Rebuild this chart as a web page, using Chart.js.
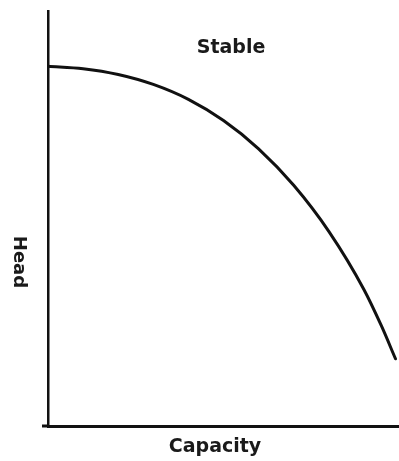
<!DOCTYPE html>
<html>
<head>
<meta charset="utf-8">
<script src="https://cdn.jsdelivr.net/npm/chart.js@4/dist/chart.umd.min.js"></script>
<style>
  html, body { margin: 0; padding: 0; background: #fff; }
  #wrap { width: 399px; height: 461px; }
</style>
</head>
<body>
<div id="wrap"><canvas id="pumpCurve" width="399" height="461"></canvas></div>
<script>
// Pump curve: head falls off as capacity rises
const capacity = [0, 10, 20, 30, 40, 50, 60, 70, 80, 90, 95, 99];
const head = [86.7, 86.1, 84.7, 82.3, 78.7, 73.6, 66.8, 58.0, 46.9, 32.9, 24.1, 16.2];
const curveLabel = "Stable";
const xTitle = "Capacity";
const yTitle = "Head";

const points = capacity.map((c, i) => ({ x: c, y: head[i] }));

// labels and the small overshoot of the x axis past the y axis
const labelsPlugin = {
    id: "labels",
    afterDraw(chart) {
        const { ctx, chartArea } = chart;
        ctx.save();
        ctx.fillStyle = "#1a1a1a";

        // x axis runs a little past the corner
        ctx.strokeStyle = "#111";
        ctx.lineWidth = 3;
        ctx.beginPath();
        ctx.moveTo(chartArea.left - 6, chartArea.bottom);
        ctx.lineTo(chartArea.left, chartArea.bottom);
        ctx.stroke();

        ctx.font = "bold 19px 'DejaVu Sans'";
        ctx.textAlign = "center";
        ctx.textBaseline = "alphabetic";
        ctx.fillText(curveLabel, 231, 53);
        ctx.fillText(xTitle, 215, 452);

        // y title reads top to bottom
        ctx.font = "bold 18px 'DejaVu Sans'";
        ctx.translate(14, 262);
        ctx.rotate(Math.PI / 2);
        ctx.fillText(yTitle, 0, 0);
        ctx.restore();
    }
};

new Chart(document.getElementById("pumpCurve"), {
    type: "line",
    data: {
        datasets: [{
            data: points,
            borderColor: "#111",
            borderWidth: 3,
            borderCapStyle: "round",
            pointRadius: 0,
            cubicInterpolationMode: "monotone",
            fill: false
        }]
    },
    options: {
        responsive: false,
        animation: false,
        layout: { padding: { left: 48, top: 11, right: 0, bottom: 35 } },
        plugins: {
            legend: { display: false },
            tooltip: { enabled: false }
        },
        scales: {
            x: {
                type: "linear",
                min: 0,
                max: 100,
                ticks: { display: false },
                grid: { display: false, drawTicks: false },
                border: { display: true, color: "#111", width: 3 }
            },
            y: {
                min: 0,
                max: 100,
                ticks: { display: false },
                grid: { display: false, drawTicks: false },
                border: { display: true, color: "#111", width: 2.5 }
            }
        }
    },
    plugins: [labelsPlugin]
});
</script>
</body>
</html>
